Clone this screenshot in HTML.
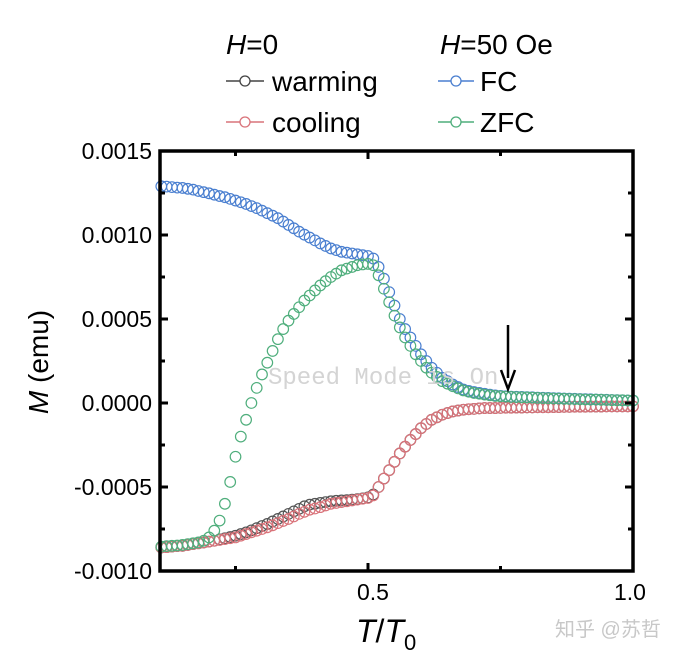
<!DOCTYPE html>
<html><head><meta charset="utf-8"><style>
html,body{margin:0;padding:0;background:#fff;}
svg{display:block;font-family:"Liberation Sans",Arial,sans-serif;}
</style></head><body>
<svg id="chart" width="674" height="656" viewBox="0 0 674 656">
<g id="marks"></g>
<g id="axes"></g>
<text x="268" y="384" font-family="Liberation Mono,monospace" font-size="24" fill="#d4d4d4">Speed Mode is On</text>
<text x="555" y="636" font-family="Liberation Sans,'Noto Sans CJK SC',sans-serif" font-size="20" fill="#c8c8c8">知乎 @苏哲</text>
<g>
<line x1="508" y1="325" x2="508" y2="378" stroke="#000" stroke-width="2.5"/>
<path d="M501,370 L508,389 L515,370" fill="none" stroke="#000" stroke-width="2.5"/>
</g>
<g font-size="28">
<text x="226" y="54"><tspan font-style="italic">H</tspan>=0</text>
<text x="440" y="54"><tspan font-style="italic">H</tspan>=50 Oe</text>
<g><line x1="226" y1="81" x2="264" y2="81" stroke="#444" stroke-width="1.5"/><circle cx="245" cy="81" r="5" fill="#fff" stroke="#444" stroke-width="1.3"/><text x="272" y="91">warming</text></g>
<g><line x1="226" y1="122" x2="264" y2="122" stroke="#d9737a" stroke-width="1.5"/><circle cx="245" cy="122" r="5" fill="#fff" stroke="#d9737a" stroke-width="1.3"/><text x="272" y="132">cooling</text></g>
<g><line x1="438" y1="81" x2="474" y2="81" stroke="#4a7fd0" stroke-width="1.5"/><circle cx="456" cy="81" r="5" fill="#fff" stroke="#4a7fd0" stroke-width="1.3"/><text x="480" y="91">FC</text></g>
<g><line x1="438" y1="122" x2="474" y2="122" stroke="#4fae7c" stroke-width="1.5"/><circle cx="456" cy="122" r="5" fill="#fff" stroke="#4fae7c" stroke-width="1.3"/><text x="480" y="132">ZFC</text></g>
</g>
<text transform="translate(48,362) rotate(-90)" text-anchor="middle" font-size="28"><tspan font-style="italic">M</tspan> (emu)</text>
<text x="356" y="642" font-size="32"><tspan font-style="italic">T</tspan>/<tspan font-style="italic">T</tspan><tspan font-size="22" dy="8">0</tspan></text>
</svg>
<script>
const tStart=0.11;
const fcVals=[12.9,12.88,12.85,12.82,12.8,12.75,12.7,12.62,12.55,12.48,
12.4,12.32,12.25,12.15,12.05,11.95,11.85,11.72,11.6,11.45,
11.3,11.15,11.0,10.8,10.6,10.4,10.2,10.02,9.85,9.68,
9.5,9.35,9.2,9.1,9.0,8.95,8.9,8.85,8.8,
8.75,8.6,8.1,7.4,6.6,5.8,5.0,4.4,3.9,3.4,
2.9,2.5,2.1,1.8,1.5,1.3,1.1,0.95,0.8,0.72,
0.65,0.6,0.55,0.5,0.45,0.42,0.4,0.38,0.37,0.36,
0.35,0.34,0.32,0.31,0.3,0.29,0.28,0.27,0.26,0.25,
0.24,0.23,0.22,0.21,0.2,0.19,0.18,0.17,0.16,0.15,0.15];
const zfcVals=[-8.55,-8.52,-8.5,-8.48,-8.45,-8.4,-8.35,-8.3,-8.2,-8.0,
-7.6,-7.0,-6.0,-4.7,-3.2,-2.0,-1.0,0.0,0.9,1.7,
2.4,3.1,3.8,4.4,4.9,5.3,5.7,6.1,6.4,6.7,
7.0,7.25,7.5,7.7,7.9,8.0,8.1,8.2,8.25,
8.28,8.2,7.6,6.8,6.0,5.2,4.5,3.9,3.4,2.9,
2.5,2.1,1.8,1.55,1.3,1.15,1.0,0.87,0.75,0.67,
0.6,0.55,0.5,0.46,0.42,0.4,0.38,0.36,0.35,0.34,
0.33,0.32,0.3,0.29,0.28,0.27,0.26,0.25,0.24,0.23,
0.22,0.21,0.2,0.2,0.19,0.18,0.17,0.16,0.16,0.15,0.15];
const coolVals=[-8.6,-8.58,-8.55,-8.52,-8.5,-8.45,-8.4,-8.35,-8.3,-8.25,
-8.2,-8.15,-8.1,-8.05,-8.0,-7.9,-7.8,-7.7,-7.6,-7.5,
-7.4,-7.28,-7.15,-7.02,-6.9,-6.75,-6.6,-6.48,-6.35,-6.28,
-6.2,-6.1,-6.0,-5.95,-5.9,-5.85,-5.8,-5.75,-5.7,
-5.65,-5.5,-5.0,-4.5,-4.0,-3.5,-3.0,-2.6,-2.2,-1.85,
-1.5,-1.25,-1.0,-0.85,-0.7,-0.6,-0.5,-0.45,-0.4,-0.37,
-0.35,-0.32,-0.3,-0.3,-0.3,-0.29,-0.28,-0.28,-0.27,-0.27,
-0.26,-0.26,-0.25,-0.25,-0.25,-0.24,-0.24,-0.23,-0.23,-0.22,
-0.22,-0.22,-0.21,-0.21,-0.21,-0.2,-0.2,-0.2,-0.2,-0.2,-0.2];
const warmVals=[-8.6,-8.58,-8.55,-8.52,-8.5,-8.45,-8.4,-8.35,-8.3,-8.25,
-8.2,-8.12,-8.05,-7.98,-7.9,-7.8,-7.7,-7.58,-7.45,-7.32,
-7.2,-7.05,-6.9,-6.75,-6.6,-6.45,-6.3,-6.15,-6.05,-6.0,
-5.95,-5.9,-5.85,-5.82,-5.8,-5.78,-5.75,-5.72,-5.68,
-5.62,-5.45,-5.0,-4.5,-4.0,-3.5,-3.0,-2.6,-2.2,-1.85,
-1.5,-1.25,-1.0,-0.85,-0.7,-0.6,-0.5,-0.45,-0.4,-0.37,
-0.35,-0.32,-0.3,-0.3,-0.3,-0.29,-0.28,-0.28,-0.27,-0.27,
-0.26,-0.26,-0.25,-0.25,-0.25,-0.24,-0.24,-0.23,-0.23,-0.22,
-0.22,-0.22,-0.21,-0.21,-0.21,-0.2,-0.2,-0.2,-0.2,-0.2,-0.2];
const yTicks=[0.0015,0.0010,0.0005,0.0000,-0.0005,-0.0010];
const yTickLabels=["0.0015","0.0010","0.0005","0.0000","-0.0005","-0.0010"];
const xTicks=[0.5,1.0];
const xTickLabels=["0.5","1.0"];
const NS="http://www.w3.org/2000/svg";
const L=160,R=633,T=151,B=571;
function xs(v){return 368+(v-0.5)*530;}
function ys(v){return 403-v*168000;}
function tOf(i){return tStart+i*0.01;}
function mk(tag,attrs,parent){const e=document.createElementNS(NS,tag);for(const k in attrs)e.setAttribute(k,attrs[k]);parent.appendChild(e);return e;}
const marks=document.getElementById('marks'),axes=document.getElementById('axes');
function series(vals,color,name){
  const g=mk('g',{},marks);
  
  
  vals.forEach((v,i)=>{
    const c=mk('circle',{cx:xs(tOf(i)),cy:ys(v*1e-4),r:5.3,fill:'none',stroke:color,'stroke-width':1.2},g);
    
    
  });
}
series(warmVals,'#555','warming-series');
series(coolVals,'#d9737a','cooling-series');
series(fcVals,'#4a7fd0','fc-series');
series(zfcVals,'#4fae7c','zfc-series');
const frame=mk('rect',{x:L,y:T,width:R-L,height:B-T,fill:'none',stroke:'#000','stroke-width':3.5},axes);


yTicks.forEach((v,i)=>{
  const y=ys(v);
  mk('line',{x1:L,y1:y,x2:L+8,y2:y,stroke:'#000','stroke-width':3},axes);
  mk('line',{x1:R,y1:y,x2:R-8,y2:y,stroke:'#000','stroke-width':3},axes);
  const t=mk('text',{x:152,y:y+8,'text-anchor':'end','font-size':23},axes);
  t.textContent=yTickLabels[i];
  
  
  if(i<yTicks.length-1){const m=ys(v-0.00025);
    mk('line',{x1:L,y1:m,x2:L+5,y2:m,stroke:'#000','stroke-width':3},axes);
    mk('line',{x1:R,y1:m,x2:R-5,y2:m,stroke:'#000','stroke-width':3},axes);}
});
[0.25,0.75].forEach(v=>{const x=xs(v);
  mk('line',{x1:x,y1:B,x2:x,y2:B-5,stroke:'#000','stroke-width':3},axes);
  mk('line',{x1:x,y1:T,x2:x,y2:T+5,stroke:'#000','stroke-width':3},axes);});
xTicks.forEach((v,i)=>{const x=xs(v);
  mk('line',{x1:x,y1:B,x2:x,y2:B-8,stroke:'#000','stroke-width':3},axes);
  mk('line',{x1:x,y1:T,x2:x,y2:T+8,stroke:'#000','stroke-width':3},axes);
  const t=mk('text',{x:v===1.0?x-3:x+5,y:600,'text-anchor':'middle','font-size':23},axes);
  t.textContent=xTickLabels[i];
  
  
});
</script>
</body></html>
